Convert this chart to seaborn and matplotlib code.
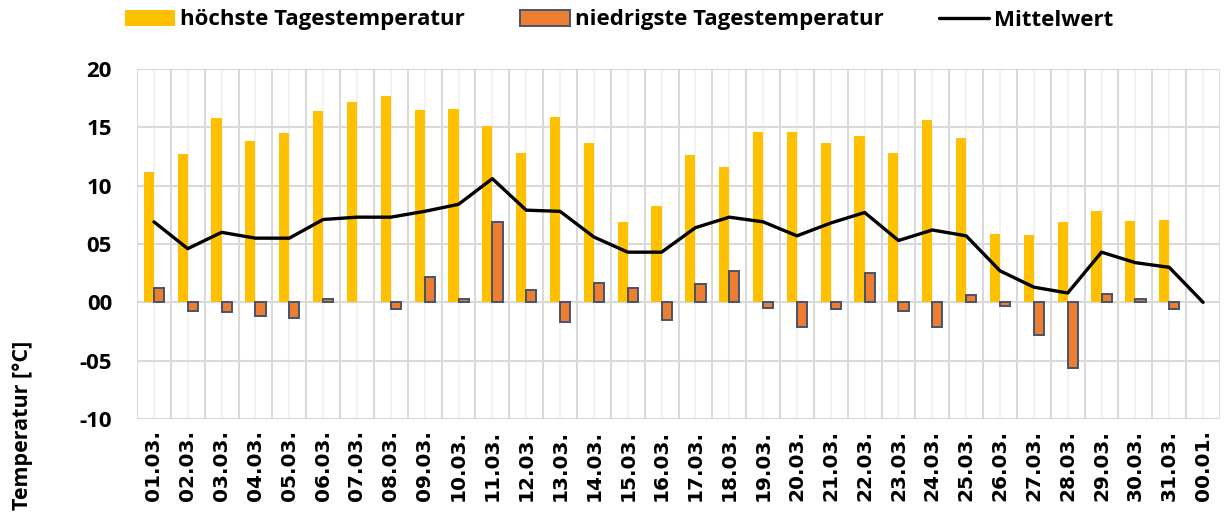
import numpy as np
import pandas as pd
import matplotlib
matplotlib.use("Agg")
import matplotlib.pyplot as plt
import seaborn as sns
from matplotlib.ticker import FixedLocator
from matplotlib.patches import Patch
from matplotlib.lines import Line2D

# ---- data ----
days = ["01.03.", "02.03.", "03.03.", "04.03.", "05.03.", "06.03.", "07.03.", "08.03.",
        "09.03.", "10.03.", "11.03.", "12.03.", "13.03.", "14.03.", "15.03.", "16.03.",
        "17.03.", "18.03.", "19.03.", "20.03.", "21.03.", "22.03.", "23.03.", "24.03.",
        "25.03.", "26.03.", "27.03.", "28.03.", "29.03.", "30.03.", "31.03.", "00.01."]
t_max = [11.2, 12.7, 15.8, 13.8, 14.5, 16.4, 17.2, 17.7, 16.5, 16.6, 15.1, 12.8, 15.9, 13.7,
         6.9, 8.3, 12.6, 11.6, 14.6, 14.6, 13.7, 14.3, 12.8, 15.6, 14.1, 5.9, 5.8, 6.9,
         7.8, 7.0, 7.1, 0.0]
t_min = [1.2, -0.7, -0.8, -1.2, -1.3, 0.3, 0.0, -0.6, 2.2, 0.3, 6.9, 1.1, -1.7, 1.7,
         1.2, -1.5, 1.6, 2.7, -0.5, -2.1, -0.6, 2.5, -0.7, -2.1, 0.6, -0.3, -2.8, -5.6,
         0.7, 0.3, -0.6, 0.0]
t_mean = [6.9, 4.6, 6.0, 5.5, 5.5, 7.1, 7.3, 7.3, 7.8, 8.4, 10.6, 7.9, 7.8, 5.6,
          4.3, 4.3, 6.4, 7.3, 6.9, 5.7, 6.8, 7.7, 5.3, 6.2, 5.7, 2.7, 1.3, 0.8,
          4.3, 3.4, 3.0, 0.0]
series_names = ["höchste Tagestemperatur", "niedrigste Tagestemperatur", "Mittelwert"]
ytick_values = [-10, -5, 0, 5, 10, 15, 20]
ytick_labels = ["-10", "-05", "00", "05", "10", "15", "20"]
y_label = "Temperatur [°C]"

YELLOW, ORANGE, EDGE = "#FFC000", "#ED7D31", "#44546A"

# ---- build long table ----
df = pd.DataFrame({
    "Tag": days * 2,
    "Wert": t_max + t_min,
    "Reihe": [series_names[0]] * len(days) + [series_names[1]] * len(days),
})

sns.set_theme(style="white")
plt.rcParams["font.family"] = ["Open Sans", "DejaVu Sans"]
plt.rcParams["text.color"] = "black"
plt.rcParams["xtick.color"] = "black"
plt.rcParams["ytick.color"] = "black"

fig = plt.figure(figsize=(12.26, 5.16), dpi=100)
ax = fig.add_axes([137 / 1226, 1 - 419 / 516, (1220 - 137) / 1226, 350 / 516])

sns.barplot(data=df, x="Tag", y="Wert", hue="Reihe", order=days,
            hue_order=series_names[:2],
            palette=[YELLOW, ORANGE], width=0.6, dodge=True,
            ax=ax, errorbar=None, saturation=1, zorder=3, legend=False)
for p in ax.containers[0]:
    p.set_edgecolor("none")
for p in ax.containers[1]:
    if p.get_height() == 0:
        p.set_edgecolor("none")
    else:
        p.set_edgecolor(EDGE)
        p.set_linewidth(1.4)

sns.lineplot(x=np.arange(len(days)), y=t_mean, ax=ax, color="black", linewidth=2.4,
             zorder=4, legend=False)

ax.set_xlim(-0.5, len(days) - 0.5)
ax.set_ylim(-10, 20)
ax.set_yticks(ytick_values)
ax.set_yticklabels(ytick_labels)

ax.xaxis.set_major_locator(FixedLocator(np.arange(len(days))))
ax.set_xticklabels(days, rotation=90, fontsize=14.5, fontweight="bold",
                   family="DejaVu Sans", color="black")
ax.grid(False)
for xb in np.arange(len(days) + 1) - 0.5:
    ax.axvline(xb, color="#D9D9D9", lw=1.5, zorder=1)
for xc in np.arange(len(days)):
    ax.axvline(xc, color="#F2F2F2", lw=1.5, zorder=1)
for yv in ytick_values:
    ax.axhline(yv, color="#D9D9D9", lw=1.5, zorder=1)

for s in ax.spines.values():
    s.set_visible(False)
ax.tick_params(axis="both", length=0)
ax.tick_params(axis="y", pad=18)
ax.tick_params(axis="x", pad=8)
for t in ax.get_yticklabels():
    t.set_fontsize(16)
    t.set_fontweight("bold")
    t.set_color("black")
ax.set_xlabel("")
ax.set_ylabel("")
fig.text(23 / 1226, 1 - 425 / 516, y_label, rotation=90, ha="center", va="center",
         fontsize=15.5, fontweight="bold", color="black")

handles = [Patch(facecolor=YELLOW, edgecolor="none"),
           Patch(facecolor=ORANGE, edgecolor=EDGE, linewidth=1.4),
           Line2D([0], [0], color="black", linewidth=2.4)]
fig.legend(handles, series_names, loc="center", bbox_to_anchor=(0.505, 1 - 20 / 516),
           ncol=3, frameon=False, handlelength=2.25, handleheight=0.7,
           columnspacing=2.5, handletextpad=0.22,
           prop={"weight": "bold", "size": 16, "family": "Open Sans"})

fig.savefig("out.png", dpi=100)
